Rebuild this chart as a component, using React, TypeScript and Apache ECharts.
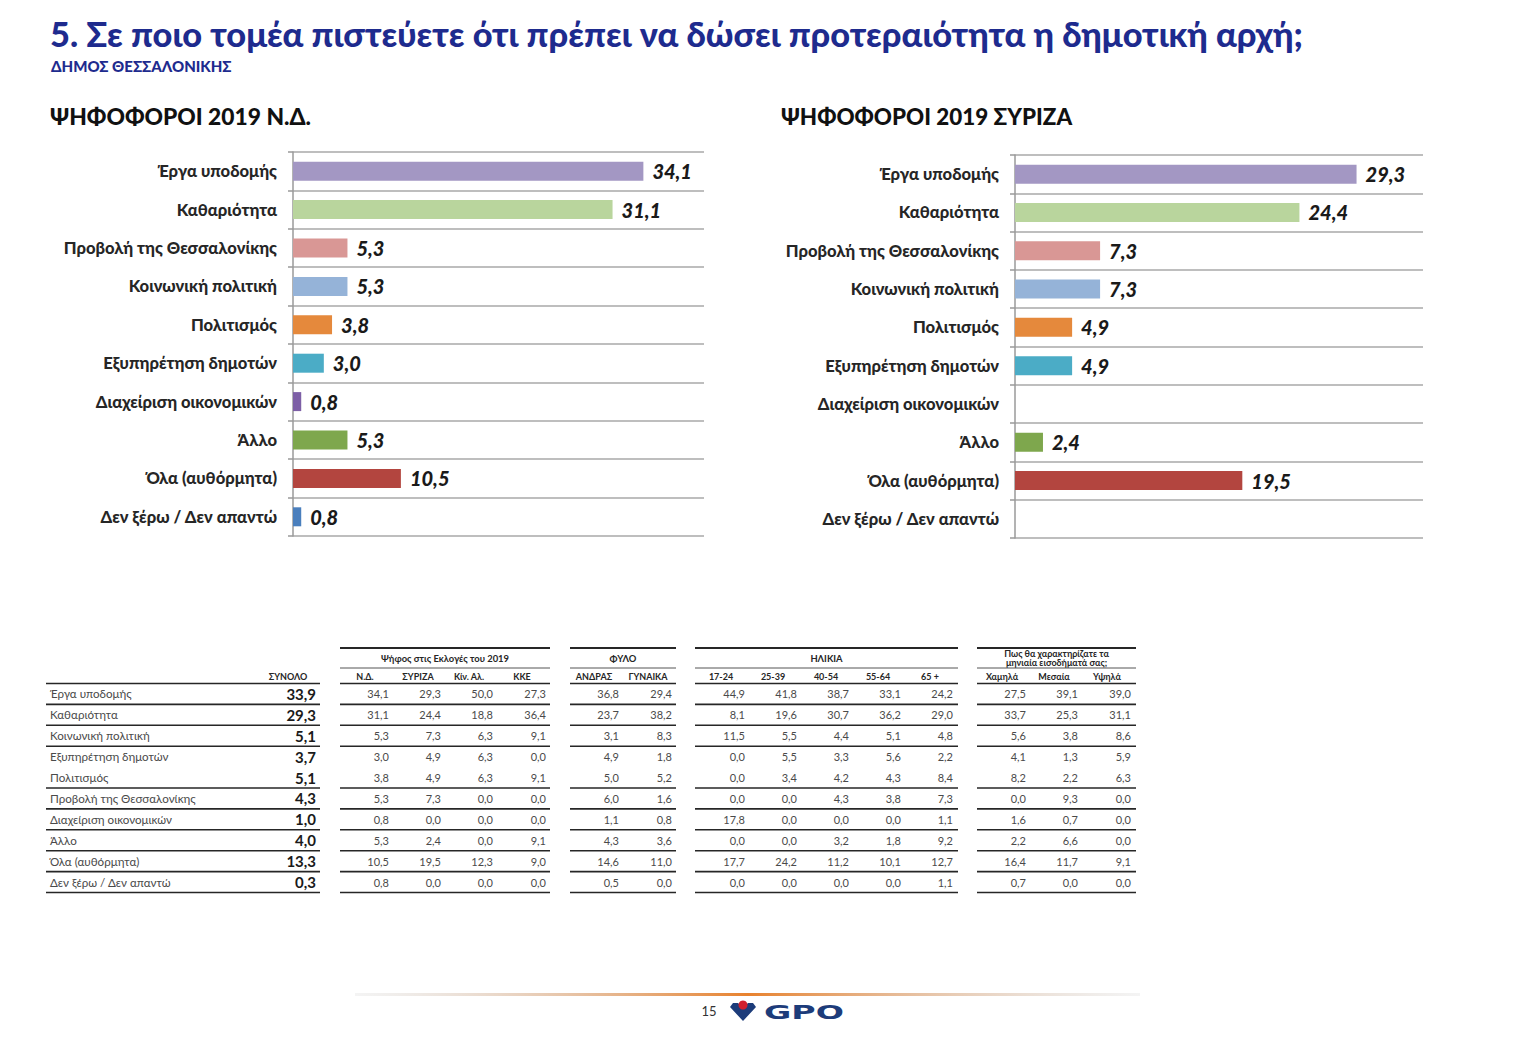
import React, { useEffect, useRef } from "react";
import * as echarts from "echarts";

// ---------- DATA ----------
const categories = [
  "Έργα υποδομής",
  "Καθαριότητα",
  "Προβολή της Θεσσαλονίκης",
  "Κοινωνική πολιτική",
  "Πολιτισμός",
  "Εξυπηρέτηση δημοτών",
  "Διαχείριση οικονομικών",
  "Άλλο",
  "Όλα (αυθόρμητα)",
  "Δεν ξέρω / Δεν απαντώ",
];
const ndValues = [34.1, 31.1, 5.3, 5.3, 3.8, 3.0, 0.8, 5.3, 10.5, 0.8];
const syrizaValues = [29.3, 24.4, 7.3, 7.3, 4.9, 4.9, 0, 2.4, 19.5, 0];
const barColors = [
  "#a397c3", "#b9d59d", "#d99795", "#95b3d8", "#e5893c",
  "#4bacc6", "#7d5fa6", "#7ea74d", "#b3453f", "#4a7fbd",
];

const tableRows = [
  "Έργα υποδομής",
  "Καθαριότητα",
  "Κοινωνική πολιτική",
  "Εξυπηρέτηση δημοτών",
  "Πολιτισμός",
  "Προβολή της Θεσσαλονίκης",
  "Διαχείριση οικονομικών",
  "Άλλο",
  "Όλα (αυθόρμητα)",
  "Δεν ξέρω / Δεν απαντώ",
];
const totalValues = [33.9, 29.3, 5.1, 3.7, 5.1, 4.3, 1.0, 4.0, 13.3, 0.3];

const voteHeaders = ["Ν.Δ.", "ΣΥΡΙΖΑ", "Κίν. Αλ.", "ΚΚΕ"];
const voteND = [34.1, 31.1, 5.3, 3.0, 3.8, 5.3, 0.8, 5.3, 10.5, 0.8];
const voteSYRIZA = [29.3, 24.4, 7.3, 4.9, 4.9, 7.3, 0.0, 2.4, 19.5, 0.0];
const voteKINAL = [50.0, 18.8, 6.3, 6.3, 6.3, 0.0, 0.0, 0.0, 12.3, 0.0];
const voteKKE = [27.3, 36.4, 9.1, 0.0, 9.1, 0.0, 0.0, 9.1, 9.0, 0.0];

const sexHeaders = ["ΑΝΔΡΑΣ", "ΓΥΝΑΙΚΑ"];
const sexMen = [36.8, 23.7, 3.1, 4.9, 5.0, 6.0, 1.1, 4.3, 14.6, 0.5];
const sexWomen = [29.4, 38.2, 8.3, 1.8, 5.2, 1.6, 0.8, 3.6, 11.0, 0.0];

const ageHeaders = ["17-24", "25-39", "40-54", "55-64", "65 +"];
const age1724 = [44.9, 8.1, 11.5, 0.0, 0.0, 0.0, 17.8, 0.0, 17.7, 0.0];
const age2539 = [41.8, 19.6, 5.5, 5.5, 3.4, 0.0, 0.0, 0.0, 24.2, 0.0];
const age4054 = [38.7, 30.7, 4.4, 3.3, 4.2, 4.3, 0.0, 3.2, 11.2, 0.0];
const age5564 = [33.1, 36.2, 5.1, 5.6, 4.3, 3.8, 0.0, 1.8, 10.1, 0.0];
const age65 = [24.2, 29.0, 4.8, 2.2, 8.4, 7.3, 1.1, 9.2, 12.7, 1.1];

const incomeHeaders = ["Χαμηλά", "Μεσαία", "Υψηλά"];
const incLow = [27.5, 33.7, 5.6, 4.1, 8.2, 0.0, 1.6, 2.2, 16.4, 0.7];
const incMid = [39.1, 25.3, 3.8, 1.3, 2.2, 9.3, 0.7, 6.6, 11.7, 0.0];
const incHigh = [39.0, 31.1, 8.6, 5.9, 6.3, 0.0, 0.0, 0.0, 9.1, 0.0];

const mainTitle = "5. Σε ποιο τομέα πιστεύετε ότι πρέπει να δώσει προτεραιότητα η δημοτική αρχή;";
const subTitle = "ΔΗΜΟΣ ΘΕΣΣΑΛΟΝΙΚΗΣ";
const leftTitle = "ΨΗΦΟΦΟΡΟΙ 2019 Ν.Δ.";
const rightTitle = "ΨΗΦΟΦΟΡΟΙ 2019 ΣΥΡΙΖΑ";
const pageNumber = "15";

// ---------- STYLE ----------
const FONT = 'Lato, "Open Sans", "Noto Sans", sans-serif';
const fmt = (v: number) => v.toFixed(1).replace(".", ",");

function buildTable(): any[] {
  const els: any[] = [];
  const lineTop = 683.5;
  const rowH = 20.9;
  const rowY = (i: number) => lineTop + (i + 0.5) * rowH;
  const hline = (x1: number, x2: number, y: number, w = 1.6, c = "#262626") => ({
    type: "line",
    shape: { x1, y1: y, x2, y2: y },
    style: { stroke: c, lineWidth: w },
    silent: true,
  });
  const txt = (t: string, x: number, y: number, font: string, fill: string, align = "left") => ({
    type: "text",
    x,
    y,
    silent: true,
    style: { text: t, font, fill, textAlign: align, textVerticalAlign: "middle" },
  });

  // block 0: row labels + total
  els.push(txt("ΣΥΝΟΛΟ", 288, 676, `bold 9px ${FONT}`, "#262626", "center"));
  for (let k = 0; k <= 10; k++) {
    if (k === 4) continue;
    els.push(hline(46, 320, lineTop + k * rowH));
  }
  tableRows.forEach((r, i) => {
    els.push(txt(r, 50, rowY(i), `11.6px ${FONT}`, "#4a4a4a", "left"));
    els.push(txt(fmt(totalValues[i]), 316, rowY(i), `bold 15px ${FONT}`, "#1a1a1a", "right"));
  });

  const groups = [
    { x1: 340, x2: 550, title: ["Ψήφος στις Εκλογές του 2019"], heads: voteHeaders, headX: [365, 418, 469, 522], cols: [voteND, voteSYRIZA, voteKINAL, voteKKE], valX: [389, 441, 493, 546] },
    { x1: 570, x2: 676, title: ["ΦΥΛΟ"], heads: sexHeaders, headX: [594, 648], cols: [sexMen, sexWomen], valX: [619, 672] },
    { x1: 695, x2: 958, title: ["ΗΛΙΚΙΑ"], heads: ageHeaders, headX: [721, 773, 826, 878, 930], cols: [age1724, age2539, age4054, age5564, age65], valX: [745, 797, 849, 901, 953] },
    { x1: 977, x2: 1136, title: ["Πως θα χαρακτηρίζατε τα", "μηνιαία εισοδήματά σας;"], heads: incomeHeaders, headX: [1002, 1054, 1107], cols: [incLow, incMid, incHigh], valX: [1026, 1078, 1131] },
  ];
  groups.forEach((g) => {
    const cx = (g.x1 + g.x2) / 2;
    els.push(hline(g.x1, g.x2, 648, 1.8));
    if (g.title.length === 1) {
      els.push(txt(g.title[0], cx, 658, `bold 9.4px ${FONT}`, "#262626", "center"));
    } else {
      els.push(txt(g.title[0], cx, 653, `bold 9px ${FONT}`, "#262626", "center"));
      els.push(txt(g.title[1], cx, 662, `bold 9px ${FONT}`, "#262626", "center"));
    }
    els.push(hline(g.x1, g.x2, 668, 1, "#555555"));
    g.heads.forEach((h, j) => {
      els.push(txt(h, g.headX[j], 676, `bold 9px ${FONT}`, "#262626", "center"));
    });
    for (let k = 0; k <= 10; k++) {
      if (k === 4) continue;
      els.push(hline(g.x1, g.x2, lineTop + k * rowH));
    }
    g.cols.forEach((col, j) => {
      col.forEach((v, i) => {
        els.push(txt(fmt(v), g.valX[j], rowY(i), `11px ${FONT}`, "#4a4a4a", "right"));
      });
    });
  });
  return els;
}

function buildDecor(): any[] {
  const els: any[] = [];
  els.push({
    type: "text",
    x: 50,
    y: 33,
    silent: true,
    style: { text: mainTitle, font: `900 34.4px ${FONT}`, fill: "#1e2b8e", textVerticalAlign: "middle" },
  });
  els.push({
    type: "text",
    x: 51,
    y: 66,
    silent: true,
    style: { text: subTitle, font: `900 15px ${FONT}`, fill: "#1e2b8e", textVerticalAlign: "middle" },
  });
  els.push({
    type: "text",
    x: 50,
    y: 116,
    silent: true,
    style: { text: leftTitle, font: `900 22.8px ${FONT}`, fill: "#111111", textVerticalAlign: "middle" },
  });
  els.push({
    type: "text",
    x: 781,
    y: 116,
    silent: true,
    style: { text: rightTitle, font: `900 22.4px ${FONT}`, fill: "#111111", textVerticalAlign: "middle" },
  });
  // orange footer line
  els.push({
    type: "rect",
    silent: true,
    shape: { x: 355, y: 993, width: 785, height: 3 },
    style: {
      fill: new echarts.graphic.LinearGradient(0, 0, 1, 0, [
        { offset: 0, color: "rgba(200,200,200,0.2)" },
        { offset: 0.5, color: "#e8822e" },
        { offset: 1, color: "rgba(200,200,200,0.2)" },
      ]),
    },
  });
  els.push({
    type: "text",
    x: 709,
    y: 1011,
    silent: true,
    style: { text: pageNumber, font: `13px ${FONT}`, fill: "#333333", textAlign: "center", textVerticalAlign: "middle" },
  });
  // logo mark
  els.push({
    type: "polygon",
    silent: true,
    shape: { points: [[730, 1007], [733, 1003], [738, 1003], [743, 1008], [748, 1003], [753, 1003], [756, 1007], [743, 1021]] },
    style: { fill: "#1d3c7a" },
  });
  els.push({
    type: "circle",
    silent: true,
    shape: { cx: 743, cy: 1005, r: 4.5 },
    style: { fill: "#d0202e" },
  });
  els.push({
    type: "text",
    x: 764,
    y: 1012,
    scaleX: 1.75,
    originX: 0,
    originY: 0,
    silent: true,
    style: { text: "GPO", font: `bold 19px "DejaVu Sans"`, fill: "#1d3c7a", textVerticalAlign: "middle" },
  });
  return els;
}

function catAxis(gridIndex: number) {
  return {
    gridIndex,
    type: "category",
    data: categories,
    inverse: true,
    axisLine: { show: true, lineStyle: { color: "#9a9a9a", width: 1.5 } },
    axisTick: { show: true, length: 5, lineStyle: { color: "#9a9a9a", width: 1.5 } },
    splitLine: { show: true, lineStyle: { color: "#a8a8a8", width: 1.5 } },
    axisLabel: { fontSize: 16.6, fontWeight: 900, color: "#262626", margin: 16, fontFamily: FONT },
  };
}

function barSeries(values: number[], axisIndex: number) {
  return {
    type: "bar",
    xAxisIndex: axisIndex,
    yAxisIndex: axisIndex,
    barWidth: 19,
    data: values.map((v, i) => ({ value: v, itemStyle: { color: barColors[i] } })),
    label: {
      show: true,
      position: "right",
      distance: 9,
      fontSize: 20,
      fontWeight: 900,
      fontStyle: "italic",
      color: "#1a1a1a",
      fontFamily: FONT,
      formatter: (p: any) => (p.value ? fmt(p.value) : ""),
    },
  };
}

export default function App() {
  const ref = useRef<HTMLDivElement>(null);
  useEffect(() => {
    document.body.style.margin = "0";
    document.body.style.background = "#ffffff";
    if (!ref.current) return;
    const chart = echarts.init(ref.current, undefined, { renderer: "svg" });
    chart.setOption({
      animation: false,
      backgroundColor: "#ffffff",
      textStyle: { fontFamily: FONT },
      grid: [
        { left: 293, top: 152, width: 411, height: 384 },
        { left: 1015, top: 155, width: 408, height: 383 },
      ],
      xAxis: [
        { gridIndex: 0, type: "value", min: 0, max: 40, show: false },
        { gridIndex: 1, type: "value", min: 0, max: 35, show: false },
      ],
      yAxis: [catAxis(0), catAxis(1)],
      series: [barSeries(ndValues, 0), barSeries(syrizaValues, 1)],
      graphic: [...buildDecor(), ...buildTable()],
    });
    return () => chart.dispose();
  }, []);
  return <div ref={ref} style={{ width: 1518, height: 1058 }} />;
}
